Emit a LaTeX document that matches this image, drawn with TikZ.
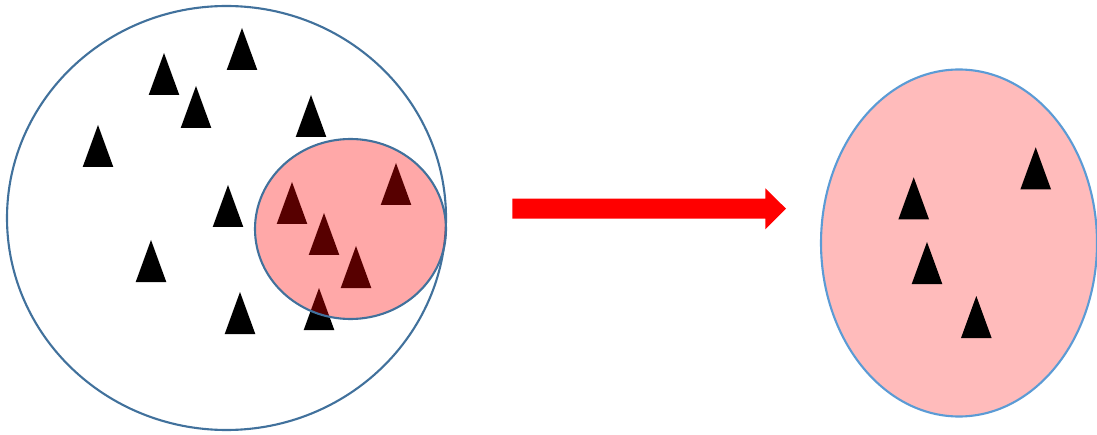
\documentclass[tikz,border=0pt]{standalone}
\begin{document}
\begin{tikzpicture}[x=0.02cm,y=-0.02cm,
  tri/.pic={\fill[black] (0,0) -- (15.3,42) -- (-15.3,42) -- cycle;},
  outline/.style={draw=blue!40!black!60!cyan, line width=1.2pt},
  bigset/.style={draw={rgb,255:red,65;green,113;blue,156}, line width=1.2pt},
  subset/.style={draw={rgb,255:red,65;green,113;blue,156}, line width=1.2pt, fill=red, fill opacity=0.34},
  result/.style={draw={rgb,255:red,91;green,155;blue,213}, line width=1.2pt, fill={rgb,255:red,255;green,187;blue,187}},
  blockarrow/.style={fill=red, draw=none}]
\useasboundingbox (0,0) rectangle (1097,435);
% big set
\draw[bigset] (226.5,218) ellipse [x radius=219.5, y radius=212];
\foreach \p in {(242,28),(164,53),(196,86),(311,95),(98,125),(228,185),(151,240),(240,292),(319,288),(292,182),(396,163),(324,213),(356,246)}
  \pic at \p {tri};
\path[subset] (350.5,229) ellipse [x radius=95.5, y radius=90];
% arrow
\fill[blockarrow] (512.3,198.7) -- (765.3,198.7) -- (765.3,188.3) -- (786,208.7) -- (765.3,229.3) -- (765.3,218.7) -- (512.3,218.7) -- cycle;
% result set
\path[result] (959,243) ellipse [x radius=138, y radius=173.5];
\foreach \p in {(913.7,177.3),(1035.7,147.3),(927,242),(976.3,296)}
  \pic at \p {tri};
\end{tikzpicture}
\end{document}
